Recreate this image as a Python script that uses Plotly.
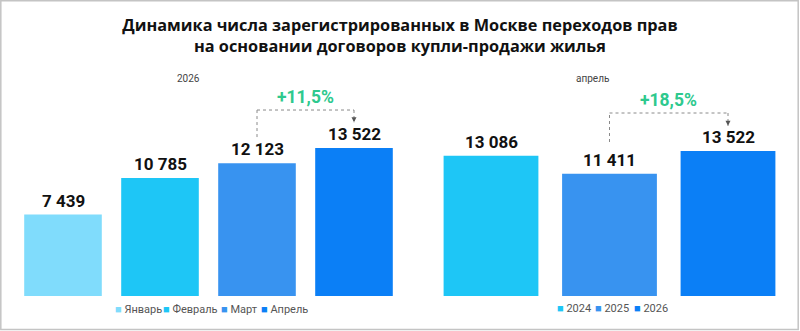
import plotly.graph_objects as go

# ---------------- data ----------------
months = ["Январь", "Февраль", "Март", "Апрель"]
month_values = [7439, 10785, 12123, 13522]
month_colors = ["#80dcfc", "#1ec6f6", "#3893f0", "#0b7ff6"]

years = ["2024", "2025", "2026"]
year_values = [13086, 11411, 13522]
year_colors = ["#1ec6f6", "#3893f0", "#0b7ff6"]

title_lines = ["Динамика числа зарегистрированных в Москве переходов прав",
               "на основании договоров купли-продажи жилья"]
left_label = "2026"
right_label = "апрель"

W, H = 800, 331

def fmt(v):
    return f"{v:,}".replace(",", " ")

def pct(a, b):
    return "+" + f"{(b / a - 1) * 100:.1f}".replace(".", ",") + "%"

fig = go.Figure()
fig.add_trace(go.Bar(x=months, y=month_values, marker=dict(color=month_colors, line=dict(width=0)),
                     xaxis="x", yaxis="y", showlegend=False, hoverinfo="x+y"))
fig.add_trace(go.Bar(x=years, y=year_values, marker=dict(color=year_colors, line=dict(width=0)),
                     xaxis="x2", yaxis="y2", showlegend=False, hoverinfo="x+y"))

# pixel geometry
plot_bottom, plot_top = 296, 60
ydom = [(H - plot_bottom) / H, (H - plot_top) / H]
units_left = 91.37   # data units per pixel
units_right = 93.26
hpx = plot_bottom - plot_top

axis_common = dict(showgrid=False, zeroline=False, showticklabels=False, showline=False, ticks="")
fig.update_layout(
    width=W, height=H,
    margin=dict(l=0, r=0, t=0, b=0),
    paper_bgcolor="white", plot_bgcolor="white",
    bargap=0.2,
    xaxis=dict(domain=[14.5 / W, 402.5 / W], range=[-0.5, 3.5], type="category", **axis_common),
    yaxis=dict(domain=ydom, range=[0, hpx * units_left], **axis_common),
    xaxis2=dict(domain=[431.75 / W, 787.25 / W], range=[-0.5, 2.5], type="category", anchor="y2", **axis_common),
    yaxis2=dict(domain=ydom, range=[0, hpx * units_right], anchor="x2", **axis_common),
    title=dict(text="<b>" + "<br>".join(title_lines) + "</b>", x=0.5, xanchor="center",
               y=1 - 31 / H, yanchor="middle", yref="container",
               font=dict(family="Open Sans", size=16.3, color="#111111")),
    font=dict(family="Roboto"),
)

ann = []
val_font = dict(family="Roboto", size=17, color="#111111")
for vals, xr, yr in [(month_values, "x", "y"), (year_values, "x2", "y2")]:
    for i, v in enumerate(vals):
        ann.append(dict(x=i, y=v, xref=xr, yref=yr, text="<b>" + fmt(v) + "</b>", showarrow=False,
                        xanchor="center", yanchor="bottom", yshift=2, font=val_font))

# subplot captions
for lbl, xp in [(left_label, 188), (right_label, 592)]:
    ann.append(dict(x=xp / W, y=1 - 78 / H, xref="paper", yref="paper", text=lbl, showarrow=False,
                    xanchor="center", yanchor="middle",
                    font=dict(family="Roboto", size=10, color="#444444")))

# brackets
shapes = []
line_style = dict(color="#8a8a8a", width=1, dash="dot")
green = "#2ec98e"
brackets = [
    ("x", "y", 2, 3, month_values[2] + 2400, month_values[3] + 3470, month_values[3] + 2350,
     month_values[3] + 4660, month_values[2], month_values[3]),
    ("x2", "y2", 1, 2, year_values[1] + 2950, year_values[2] + 3545, year_values[2] + 2350,
     year_values[2] + 4760, year_values[1], year_values[2]),
]
for xr, yr, i0, i1, s, t, e, ty, a, b in brackets:
    shapes.append(dict(type="line", xref=xr, yref=yr, x0=i0, x1=i0, y0=s, y1=t, line=line_style))
    shapes.append(dict(type="line", xref=xr, yref=yr, x0=i0, x1=i1, y0=t, y1=t, line=line_style))
    shapes.append(dict(type="line", xref=xr, yref=yr, x0=i1, x1=i1, y0=t, y1=e, line=line_style))
    ann.append(dict(x=i1, y=e, xref=xr, yref=yr, ax=0, ay=-5, showarrow=True, arrowhead=2,
                    arrowsize=1, arrowwidth=1, arrowcolor="#555555", text=""))
    ann.append(dict(x=(i0 + i1) / 2, y=ty, xref=xr, yref=yr, text="<b>" + pct(a, b) + "</b>",
                    showarrow=False, xanchor="center", yanchor="middle",
                    font=dict(family="Roboto", size=17.5, color=green)))

# legends (drawn as text items)
leg_font = dict(family="Roboto", size=11, color="#555555")
left_leg_x = [113, 161, 219, 259]
right_leg_x = [555, 593, 632]
for names, cols, xs, ypx in [(months, month_colors, left_leg_x, 309), (years, year_colors, right_leg_x, 308)]:
    for n, c, xp in zip(names, cols, xs):
        ann.append(dict(x=xp / W, y=1 - ypx / H, xref="paper", yref="paper", xanchor="left", yanchor="middle",
                        showarrow=False, font=leg_font,
                        text=f'<span style="color:{c};font-size:11px">■</span> {n}'))

# frame
shapes.append(dict(type="rect", xref="paper", yref="paper", x0=0.8 / W, x1=798.2 / W, y0=1.5 / H, y1=1 - 0.8 / H,
                   line=dict(color="#c4c4c4", width=1.5), layer="above"))

fig.update_layout(annotations=ann, shapes=shapes)
fig.write_html("out.html")
